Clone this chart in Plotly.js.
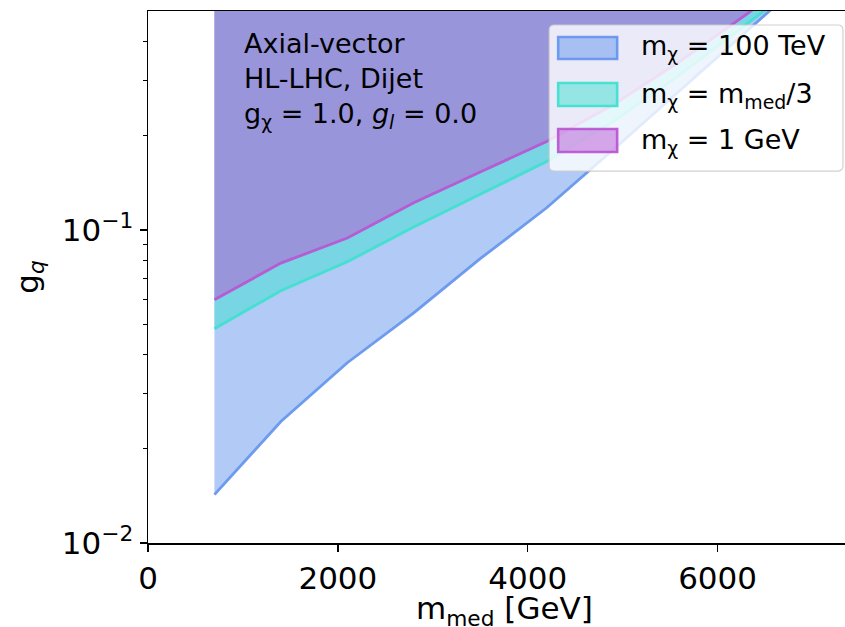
<!DOCTYPE html>
<html>
<head>
<meta charset="utf-8">
<script src="https://cdn.plot.ly/plotly-3.0.1.min.js"></script>
<style>html,body{margin:0;padding:0;background:#fff;}#chart{width:845px;height:627px;}</style>
</head>
<body>
<div id="chart"></div>
<script>
// Mediator masses (GeV)
const mass = [700, 1400, 2100, 2800, 3500, 4200, 4900, 5600, 6300, 7000];
// Lower limits on g_q for each DM mass hypothesis
const g_100TeV = [0.01427, 0.02446, 0.03767, 0.0544, 0.0810, 0.1178, 0.1805, 0.2786, 0.4300, 0.664];
const g_mmed3  = [0.0484, 0.0640, 0.0792, 0.1022, 0.1301, 0.1656, 0.2220, 0.3134, 0.453, 0.66];
const g_1GeV   = [0.0599, 0.0784, 0.0943, 0.1223, 0.1532, 0.1919, 0.2512, 0.3453, 0.488, 0.70];
// Upper edge of excluded region (beyond the plotted range)
const g_upper = [10, 10];
const seriesNames = ['m<sub>χ</sub> = 100 TeV', 'm<sub>χ</sub> = m<sub>med</sub>/3', 'm<sub>χ</sub> = 1 GeV'];
const xTicks = [0, 2000, 4000, 6000];
const yTicks = [0.01, 0.1];
const yTickText = ['10<sup>−2</sup>', '10<sup>−1</sup>'];
const yMinor = [0.02,0.03,0.04,0.05,0.06,0.07,0.08,0.09,0.2,0.3,0.4];
const xTitle = 'm<sub>med</sub> [GeV]';
const yTitle = 'g<sub><i>q</i></sub>';

const fills = ['rgba(100,149,237,0.5)', 'rgba(64,224,208,0.5)', 'rgba(186,85,211,0.5)'];
const edges = ['rgba(100,149,237,0.92)', 'rgba(64,224,208,0.95)', 'rgba(186,85,211,0.92)'];

function region(lower, i) {
  const x = mass.concat([mass[mass.length-1], mass[0]]);
  const y = lower.concat(g_upper);
  return {
    x: x, y: y, type: 'scatter', mode: 'lines', fill: 'toself',
    fillcolor: fills[i], line: {color: edges[i], width: 2.8},
    name: seriesNames[i], hoverinfo: 'skip', showlegend: false
  };
}

const traces = [region(g_100TeV, 0), region(g_mmed3, 1), region(g_1GeV, 2)];

const font = 'DejaVu Sans, sans-serif';

// Legend drawn in paper coordinates (matplotlib-style rounded box with patch swatches)
const L = {x0: 0.5756, x1: 0.9971, y0: 0.6992, y1: 0.9737, rx: 0.0075, ry: 0.0098};
const boxPath = 'M' + (L.x0 + L.rx) + ',' + L.y1 +
  ' L' + (L.x1 - L.rx) + ',' + L.y1 + ' Q' + L.x1 + ',' + L.y1 + ' ' + L.x1 + ',' + (L.y1 - L.ry) +
  ' L' + L.x1 + ',' + (L.y0 + L.ry) + ' Q' + L.x1 + ',' + L.y0 + ' ' + (L.x1 - L.rx) + ',' + L.y0 +
  ' L' + (L.x0 + L.rx) + ',' + L.y0 + ' Q' + L.x0 + ',' + L.y0 + ' ' + L.x0 + ',' + (L.y0 + L.ry) +
  ' L' + L.x0 + ',' + (L.y1 - L.ry) + ' Q' + L.x0 + ',' + L.y1 + ' ' + (L.x0 + L.rx) + ',' + L.y1 + ' Z';
const swX = [0.5885, 0.6731];
const swY = [[0.9098, 0.9511], [0.8214, 0.8647], [0.7350, 0.7782]];
const txtY = [0.9305, 0.8421, 0.7556];

const shapes = [{
  type: 'path', xref: 'paper', yref: 'paper', path: boxPath, layer: 'above',
  fillcolor: 'rgba(255,255,255,0.8)', line: {color: 'rgba(204,204,204,0.9)', width: 1.2}
}];
const annotations = [{
  xref: 'paper', yref: 'paper', x: 0.135, y: 0.972, xanchor: 'left', yanchor: 'top',
  align: 'left', showarrow: false,
  text: 'Axial-vector<br>HL-LHC, Dijet<br>g<sub>χ</sub> = 1.0, <i>g<sub>l</sub></i> = 0.0',
  font: {family: font, size: 27, color: '#000'}
}, {
  // x-axis title
  xref: 'paper', yref: 'paper', x: 0.512, y: -0.0846, xanchor: 'center', yanchor: 'top',
  showarrow: false, text: xTitle, font: {family: font, size: 31, color: '#000'}
}];
for (let i = 0; i < 3; i++) {
  shapes.push({
    type: 'rect', xref: 'paper', yref: 'paper', layer: 'above',
    x0: swX[0], x1: swX[1], y0: swY[i][0], y1: swY[i][1],
    fillcolor: fills[i], line: {color: edges[i], width: 2.6}
  });
  annotations.push({
    xref: 'paper', yref: 'paper', x: 0.7047, y: txtY[i], xanchor: 'left', yanchor: 'middle',
    showarrow: false, text: seriesNames[i], font: {family: font, size: 27, color: '#000'}
  });
}

const layout = {
  width: 845, height: 627,
  margin: {l: 148, r: 0, t: 11, b: 84},
  paper_bgcolor: '#fff', plot_bgcolor: '#fff',
  font: {family: font, color: '#000', size: 28},
  showlegend: false,
  xaxis: {
    range: [0, 7342], tickvals: xTicks, ticktext: xTicks.map(String),
    ticks: 'outside', ticklen: 7, tickwidth: 1.3, tickcolor: '#000',
    showline: true, linecolor: '#000', linewidth: 1.5, mirror: true,
    showgrid: false, zeroline: false,
    tickfont: {family: font, size: 31, color: '#000'}
  },
  yaxis: {
    type: 'log', range: [-2, -0.3],
    tickvals: yTicks, ticktext: yTickText,
    ticks: 'outside', ticklen: 7, tickwidth: 1.3, tickcolor: '#000',
    minor: {tickvals: yMinor, ticks: 'outside', ticklen: 4, tickwidth: 1, tickcolor: '#000', showgrid: false},
    showline: true, linecolor: '#000', linewidth: 1.5, mirror: false,
    showgrid: false, zeroline: false,
    tickfont: {family: font, size: 31, color: '#000'},
    title: {text: yTitle, font: {family: font, size: 31, color: '#000'}, standoff: 14}
  },
  shapes: shapes,
  annotations: annotations
};

Plotly.newPlot('chart', traces, layout, {staticPlot: true, displayModeBar: false});
</script>
</body>
</html>
